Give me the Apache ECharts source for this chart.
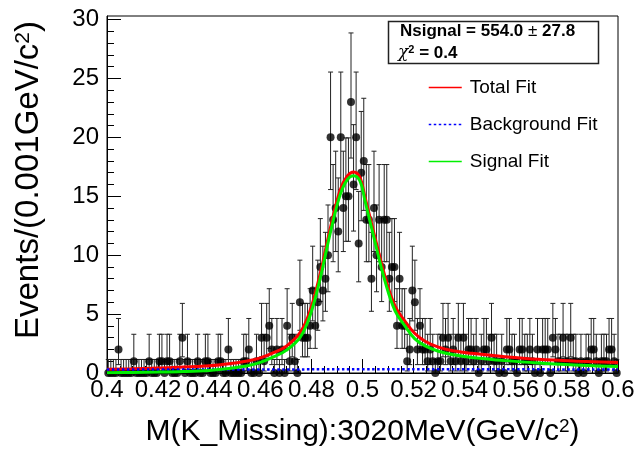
<!DOCTYPE html>
<html>
<head>
<meta charset="utf-8">
<script src="https://cdn.jsdelivr.net/npm/echarts@6/dist/echarts.min.js"></script>
<style>
  html, body { margin: 0; padding: 0; background: #fff; }
  #chart { width: 640px; height: 451px; }
</style>
</head>
<body>
<div id="chart"></div>
<script>
// Histogram binning: 200 bins of 0.001 GeV/c^2 from 0.4 to 0.6
const binLow = 0.4;
const binWidth = 0.001;

// Events per bin
const counts = [
  0,0,0,0,2,0,0,0,0,0, 1,0,0,0,0,0,1,0,0,0,
  1,1,0,1,1,0,0,0,1,3, 0,1,0,0,0,1,0,0,1,1,
  0,0,0,1,1,0,0,2,0,0, 0,0,0,1,1,2,0,0,1,0,
  3,1,3,4,2,0,2,0,2,0, 4,1,3,1,0,6,3,3,3,4,
  7,4,6,9,7,8,10,20,13,14, 12,20,14,15,15,23,16,20,11,17,
  18,13,13,8,14,10,13,9,13,13, 8,9,9,4,8,4,4,1,2,7,
  6,2,4,2,2,1,2,1,0,1, 1,3,2,3,1,2,1,3,1,3,
  1,2,2,1,2,0,1,2,2,1, 3,1,1,0,1,0,2,2,1,1,
  0,2,2,1,1,2,1,0,2,0, 2,2,2,0,3,2,1,1,3,1,
  1,3,1,1,0,1,0,1,1,2, 2,1,0,1,1,1,2,2,1,0
];

// Fit curves, [mass, events per bin]
const totalFit = [
  [0.400,0.32],[0.410,0.36],[0.420,0.42],[0.430,0.50],[0.440,0.62],[0.445,0.72],
  [0.450,0.85],[0.455,1.02],[0.460,1.28],[0.465,1.70],[0.470,2.25],[0.4755,3.4],
  [0.4795,5.3],[0.4834,8.4],[0.4873,12.2],[0.4912,15.5],[0.494,16.7],[0.4965,17.06],
  [0.499,16.6],[0.501,14.9],[0.5049,11.5],[0.5088,8.2],[0.5127,5.7],[0.5166,4.4],
  [0.5205,3.35],[0.5245,2.7],[0.5297,2.2],[0.5362,1.86],[0.5427,1.67],[0.5558,1.38],
  [0.5688,1.16],[0.585,1.0],[0.600,0.9]
];
const backgroundFit = [
  [0.400,0.29],[0.450,0.30],[0.500,0.31],[0.550,0.31],[0.600,0.30]
];
const signalFit = [
  [0.400,0.03],[0.410,0.05],[0.420,0.08],[0.430,0.13],[0.440,0.22],[0.445,0.32],
  [0.450,0.45],[0.455,0.62],[0.460,0.9],[0.465,1.35],[0.470,1.9],[0.4755,3.0],
  [0.4795,4.9],[0.4834,8.0],[0.4873,11.8],[0.4912,15.1],[0.494,16.4],[0.4965,16.75],
  [0.499,16.3],[0.501,14.6],[0.5049,11.1],[0.5088,7.8],[0.5127,5.3],[0.5166,4.0],
  [0.5205,2.9],[0.5245,2.3],[0.5297,1.85],[0.5362,1.52],[0.5427,1.32],[0.5558,1.05],
  [0.5688,0.85],[0.585,0.66],[0.600,0.55]
];

// Fit results shown in the stats box
const nSignal = 554.0;
const nSignalErr = 27.8;
const chi2 = 0.4;

const yTicks = [0,5,10,15,20,25,30];
const yMinorTicks = [1,2,3,4,6,7,8,9,11,12,13,14,16,17,18,19,21,22,23,24,26,27,28,29];

const FONT = "'Liberation Sans', Arial, Helvetica, sans-serif";

// Asymmetric Poisson (Garwood) errors, Wilson-Hilferty chi2 quantiles
function chi2Quantile(k, z) {
  const a = 2 / (9 * k);
  return k * Math.pow(1 - a + z * Math.sqrt(a), 3);
}
function poissonLow(n) { return n === 0 ? 0 : n - 0.5 * chi2Quantile(2 * n, -1); }
function poissonUp(n) { return n === 0 ? -Math.log(1 - 0.6827) : 0.5 * chi2Quantile(2 * n + 2, 1) - n; }

const points = counts.map((n, i) => [binLow + (i + 0.5) * binWidth, n]);
const errors = counts.map((n, i) => [binLow + (i + 0.5) * binWidth, n - poissonLow(n), n + poissonUp(n)]);

const chart = echarts.init(document.getElementById('chart'), null, { renderer: 'canvas' });

chart.setOption({
  backgroundColor: '#fff',
  animation: false,
  grid: {
    left: 107, right: 22, top: 16, bottom: 78,
    outerBoundsMode: 'none', containLabel: false,
    show: true, borderColor: '#000', borderWidth: 1, backgroundColor: 'transparent'
  },
  xAxis: {
    type: 'value', min: 0.4, max: 0.6, interval: 0.02,
    name: 'M(K_Missing):3020MeV(GeV/c{sup|2})',
    nameLocation: 'middle', nameGap: 44,
    nameTextStyle: {
      fontFamily: FONT, fontSize: 30, color: '#000',
      rich: { sup: { fontFamily: FONT, fontSize: 19, verticalAlign: 'top', color: '#000' } }
    },
    axisLine: { show: true, lineStyle: { color: '#000', width: 1 } },
    axisTick: { show: true, inside: true, length: 14, lineStyle: { color: '#000' } },
    minorTick: { show: true, splitNumber: 4, length: 7, lineStyle: { color: '#000' } },
    axisLabel: {
      fontFamily: FONT, fontSize: 24, color: '#000', margin: 5,
      formatter: v => String(+v.toFixed(3))
    },
    splitLine: { show: false }
  },
  yAxis: [{
    type: 'value', min: 0, max: 30.3, interval: 5,
    axisLine: { show: true, lineStyle: { color: '#000', width: 1 } },
    axisTick: { show: true, inside: true, length: 14, lineStyle: { color: '#000' }, customValues: yTicks },
    axisLabel: { fontFamily: FONT, fontSize: 24, color: '#000', margin: 8, customValues: yTicks },
    splitLine: { show: false }
  }, {
    type: 'value', min: 0, max: 30.3, position: 'left',
    axisLine: { show: false },
    axisTick: { show: true, inside: true, length: 7, lineStyle: { color: '#000' }, customValues: yMinorTicks },
    axisLabel: { show: false },
    splitLine: { show: false }
  }],
  legend: {
    data: ['Total Fit', 'Background Fit', 'Signal Fit'],
    orient: 'vertical', left: 428, top: 78, padding: 0,
    itemWidth: 33, itemHeight: 10, itemGap: 18,
    selectedMode: false,
    itemStyle: { opacity: 0 },
    lineStyle: { width: 1.5 },
    textStyle: { fontFamily: FONT, fontSize: 19, color: '#000', padding: [0, 0, 0, 3] }
  },
  graphic: [
    {
      type: 'text', x: 29, y: 180, rotation: Math.PI / 2,
      style: {
        text: 'Events/(0.001GeV/c{sup|2})',
        fontFamily: FONT, fontSize: 33, fill: '#000',
        align: 'center', verticalAlign: 'middle',
        rich: { sup: { fontFamily: FONT, fontSize: 21, verticalAlign: 'top', fill: '#000' } }
      }
    },
    {
      type: 'rect', z: 100,
      shape: { x: 388.5, y: 21.5, width: 210, height: 42 },
      style: { fill: '#fff', stroke: '#222', lineWidth: 1.5 }
    },
    {
      type: 'text', z: 101, x: 400, y: 31,
      style: {
        text: 'Nsignal = ' + nSignal.toFixed(1) + ' {pm|±} ' + nSignalErr.toFixed(1),
        fontFamily: FONT, fontWeight: 'bold', fontSize: 17, fill: '#000', verticalAlign: 'middle',
        rich: { pm: { fontFamily: FONT, fontWeight: 'normal', fontSize: 17, fill: '#000' } }
      }
    },
    {
      type: 'text', z: 101, x: 398, y: 53,
      style: {
        text: '{chi|χ}{sup|2}{b| = ' + chi2.toFixed(1) + '}',
        fontFamily: FONT, fontSize: 17, fill: '#000', verticalAlign: 'middle',
        rich: {
          chi: { fontFamily: "'DejaVu Serif', serif", fontStyle: 'italic', fontSize: 17, fill: '#000' },
          sup: { fontFamily: FONT, fontWeight: 'bold', fontSize: 11, verticalAlign: 'top', fill: '#000' },
          b: { fontFamily: FONT, fontWeight: 'bold', fontSize: 17, fill: '#000' }
        }
      }
    }
  ],
  series: [
    {
      name: 'errors', type: 'custom', z: 2, clip: false,
      data: errors,
      encode: { x: 0, y: [1, 2] },
      renderItem: (params, api) => {
        const x = api.value(0);
        const pLo = api.coord([x, api.value(1)]);
        const pHi = api.coord([x, api.value(2)]);
        const cap = 2.5;
        const st = { stroke: '#222', lineWidth: 1 };
        return {
          type: 'group',
          children: [
            { type: 'line', shape: { x1: pLo[0], y1: pLo[1], x2: pHi[0], y2: pHi[1] }, style: st },
            { type: 'line', shape: { x1: pHi[0] - cap, y1: pHi[1], x2: pHi[0] + cap, y2: pHi[1] }, style: st },
            { type: 'line', shape: { x1: pLo[0] - cap, y1: pLo[1], x2: pLo[0] + cap, y2: pLo[1] }, style: st }
          ]
        };
      }
    },
    {
      name: 'data', type: 'scatter', z: 3, clip: false,
      data: points, symbol: 'circle', symbolSize: 8,
      itemStyle: { color: '#000' }
    },
    {
      name: 'Total Fit', type: 'line', z: 4, data: totalFit,
      smooth: 0.4, symbol: 'none', showSymbol: false,
      lineStyle: { color: '#ff0000', width: 3 }, itemStyle: { color: '#ff0000' }
    },
    {
      name: 'Background Fit', type: 'line', z: 5, data: backgroundFit,
      smooth: true, symbol: 'none', showSymbol: false,
      lineStyle: { color: '#0000ff', width: 2.5, type: [2.5, 2.5] }, itemStyle: { color: '#0000ff' }
    },
    {
      name: 'Signal Fit', type: 'line', z: 6, data: signalFit,
      smooth: 0.4, symbol: 'none', showSymbol: false,
      lineStyle: { color: '#00f000', width: 3 }, itemStyle: { color: '#00f000' }
    }
  ]
});
</script>
</body>
</html>
